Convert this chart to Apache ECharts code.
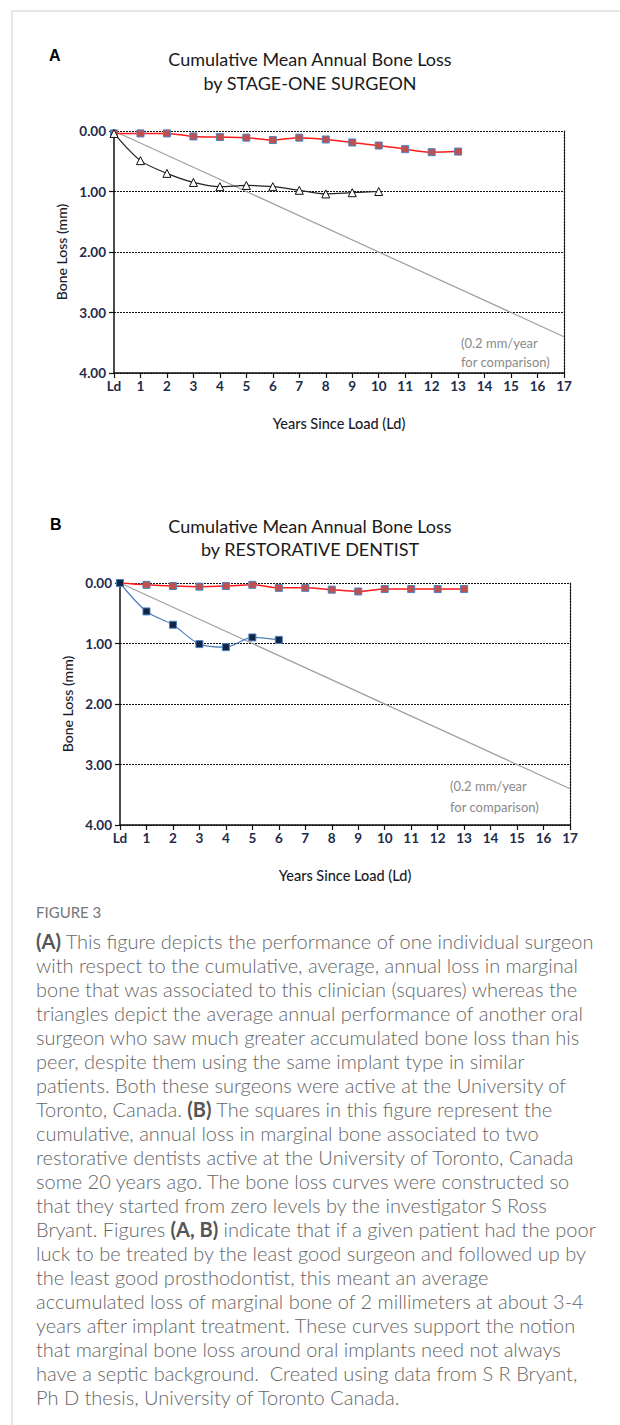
<!DOCTYPE html>
<html>
<head>
<meta charset="utf-8">
<script src="https://cdn.jsdelivr.net/npm/echarts@6/dist/echarts.min.js"></script>
<style>
html, body { margin: 0; padding: 0; background: #fff; }
#main { width: 620px; height: 1425px; }
</style>
</head>
<body>
<div id="main"></div>
<script>
// years since load, 'Ld' = 0
var yearLabels = ['Ld', '1', '2', '3', '4', '5', '6', '7', '8', '9', '10', '11', '12', '13', '14', '15', '16', '17'];

// panel A: stage-one surgeons (mm, cumulative)
var surgeonGood = [0.04, 0.04, 0.04, 0.09, 0.10, 0.11, 0.15, 0.11, 0.14, 0.19, 0.24, 0.30, 0.35, 0.34];
var surgeonPoor = [0.04, 0.49, 0.70, 0.85, 0.92, 0.90, 0.92, 0.98, 1.04, 1.02, 1.00];

// panel B: restorative dentists
var dentistGood = [0.00, 0.03, 0.05, 0.06, 0.05, 0.03, 0.08, 0.08, 0.11, 0.14, 0.10, 0.10, 0.10, 0.10];
var dentistPoor = [0.00, 0.47, 0.69, 1.01, 1.06, 0.90, 0.94];

// 0.2 mm/year reference line
var refYears = [0, 17];
var refLoss = [0, 3.4];

var axisColor = '#1d2b4a';
var labelFont = 'Lato';

function pairs(vals) {
    return vals.map(function (v, i) { return [i, v]; });
}

function xAxisFor(idx, gap) {
    return {
        type: 'value', gridIndex: idx, min: 0, max: 17, interval: 1,
        name: 'Years Since Load (Ld)', nameLocation: 'middle', nameGap: gap,
        nameTextStyle: { fontFamily: labelFont, fontSize: 14.5, color: '#1a1a2a', fontWeight: 500 },
        axisLine: { onZero: false, lineStyle: { color: '#111', width: 1.5 } },
        axisTick: { length: 5, lineStyle: { color: '#111', width: 1.2 } },
        axisLabel: {
            margin: 6, fontFamily: labelFont, fontSize: 13.5, fontWeight: 'bold', color: axisColor,
            formatter: function (v) { return yearLabels[v]; }
        },
        splitLine: { show: false }
    };
}

function yAxesFor(idx, gap) {
    return [{
        type: 'value', gridIndex: idx, min: 0, max: 4, interval: 1, inverse: true,
        name: 'Bone Loss (mm)', nameLocation: 'middle', nameGap: gap, nameRotate: 90,
        nameTextStyle: { fontFamily: labelFont, fontSize: 14, color: '#1a1a2a', fontWeight: 500 },
        axisLine: { show: true, onZero: false, lineStyle: { color: '#111', width: 1.5 } },
        axisTick: { show: true, length: 5, lineStyle: { color: '#111', width: 1.2 } },
        axisLabel: {
            margin: 8, fontFamily: labelFont, fontSize: 13.5, fontWeight: 'bold', color: axisColor,
            formatter: function (v) { return v.toFixed(2); }
        },
        splitLine: { show: true, lineStyle: { color: '#111', width: 1.2, type: [2, 1] } }
    }, {
        type: 'value', gridIndex: idx, min: 0, max: 4, interval: 1, inverse: true, position: 'right',
        axisLine: { show: true, onZero: false, lineStyle: { color: '#111', width: 1.2, type: [2, 1] } },
        axisTick: { show: false }, axisLabel: { show: false }, splitLine: { show: false }
    }];
}

var redSquares = {
    symbol: 'rect', symbolSize: 7,
    lineStyle: { color: '#ff1a1a', width: 1.5 },
    itemStyle: { color: '#c0504d', borderColor: '#4f81bd', borderWidth: 1 }
};

var myChart = echarts.init(document.getElementById('main'), null, { renderer: 'svg' });

var caption =
    '{b|(A)} This figure depicts the performance of one individual surgeon\n' +
    'with respect to the cumulative, average, annual loss in marginal\n' +
    'bone that was associated to this clinician (squares) whereas the\n' +
    'triangles depict the average annual performance of another oral\n' +
    'surgeon who saw much greater accumulated bone loss than his\n' +
    'peer, despite them using the same implant type in similar\n' +
    'patients. Both these surgeons were active at the University of\n' +
    'Toronto, Canada. {b|(B)} The squares in this figure represent the\n' +
    'cumulative, annual loss in marginal bone associated to two\n' +
    'restorative dentists active at the University of Toronto, Canada\n' +
    'some 20 years ago. The bone loss curves were constructed so\n' +
    'that they started from zero levels by the investigator S Ross\n' +
    'Bryant. Figures {b|(A, B)} indicate that if a given patient had the poor\n' +
    'luck to be treated by the least good surgeon and followed up by\n' +
    'the least good prosthodontist, this meant an average\n' +
    'accumulated loss of marginal bone of 2 millimeters at about 3-4\n' +
    'years after implant treatment. These curves support the notion\n' +
    'that marginal bone loss around oral implants need not always\n' +
    'have a septic background.  Created using data from S R Bryant,\n' +
    'Ph D thesis, University of Toronto Canada.';

var option = {
    animation: false,
    backgroundColor: '#fff',
    title: [{
        text: 'Cumulative Mean Annual Bone Loss\nby STAGE-ONE SURGEON',
        left: 'center', top: 42,
        textStyle: { fontFamily: labelFont, fontSize: 18, fontWeight: 'normal', color: '#1a1a1a', lineHeight: 24 }
    }, {
        text: 'Cumulative Mean Annual Bone Loss\nby RESTORATIVE DENTIST',
        left: 'center', top: 509,
        textStyle: { fontFamily: labelFont, fontSize: 18, fontWeight: 'normal', color: '#1a1a1a', lineHeight: 23 }
    }],
    grid: [
        { left: 114, top: 131, width: 450, height: 242 },
        { left: 120, top: 583, width: 450, height: 242 }
    ],
    xAxis: [xAxisFor(0, 43), xAxisFor(1, 43)],
    yAxis: yAxesFor(0, 46).concat(yAxesFor(1, 46)),
    series: [
        {
            type: 'line', xAxisIndex: 0, yAxisIndex: 0, symbol: 'none',
            lineStyle: { color: '#a0a0a0', width: 1.2 },
            data: refYears.map(function (x, i) { return [x, refLoss[i]]; })
        },
        Object.assign({ type: 'line', xAxisIndex: 0, yAxisIndex: 0, smooth: 0.3, data: pairs(surgeonGood) }, redSquares),
        {
            type: 'line', xAxisIndex: 0, yAxisIndex: 0, smooth: 0.3,
            symbol: 'triangle', symbolSize: 8,
            lineStyle: { color: '#222', width: 1.2 },
            itemStyle: { color: '#fff', borderColor: '#111', borderWidth: 1 },
            data: pairs(surgeonPoor)
        },
        {
            type: 'line', xAxisIndex: 1, yAxisIndex: 2, symbol: 'none',
            lineStyle: { color: '#a0a0a0', width: 1.2 },
            data: refYears.map(function (x, i) { return [x, refLoss[i]]; })
        },
        Object.assign({ type: 'line', xAxisIndex: 1, yAxisIndex: 2, smooth: 0.3, data: pairs(dentistGood) }, redSquares),
        {
            type: 'line', xAxisIndex: 1, yAxisIndex: 2, smooth: 0.3,
            symbol: 'rect', symbolSize: 7,
            lineStyle: { color: '#4f81bd', width: 1.2 },
            itemStyle: { color: '#0f2547', borderColor: '#4f81bd', borderWidth: 1 },
            data: pairs(dentistPoor)
        }
    ],
    graphic: [
        { type: 'line', shape: { x1: 12, y1: 11, x2: 620, y2: 11 }, style: { stroke: '#cfcfcf', lineWidth: 1 } },
        { type: 'line', shape: { x1: 12, y1: 11, x2: 12, y2: 1425 }, style: { stroke: '#cfcfcf', lineWidth: 1 } },
        { type: 'text', x: 49, y: 55, style: { text: 'A', font: 'bold 16px "Liberation Sans"', fill: '#000', verticalAlign: 'middle' } },
        { type: 'text', x: 50, y: 524, style: { text: 'B', font: 'bold 16px "Liberation Sans"', fill: '#000', verticalAlign: 'middle' } },
        {
            type: 'text', x: 461, y: 333,
            style: { text: '(0.2 mm/year\nfor comparison)', font: '13px Lato', fill: '#8a8a8a', lineHeight: 19, verticalAlign: 'top' }
        },
        {
            type: 'text', x: 450, y: 775,
            style: { text: '(0.2 mm/year\nfor comparison)', font: '13px Lato', fill: '#8a8a8a', lineHeight: 21, verticalAlign: 'top' }
        },
        { type: 'text', x: 36, y: 912, style: { text: 'FIGURE 3', font: '15px Lato', fill: '#777', verticalAlign: 'middle' } },
        {
            type: 'text', x: 36, y: 929,
            style: {
                text: caption, font: '300 20px Lato', fill: '#666', lineHeight: 24, verticalAlign: 'top',
                rich: { b: { fontFamily: 'Lato', fontSize: 20, fontWeight: 'bold', fill: '#555', lineHeight: 24 } }
            }
        }
    ]
};

myChart.setOption(option);
</script>
</body>
</html>
